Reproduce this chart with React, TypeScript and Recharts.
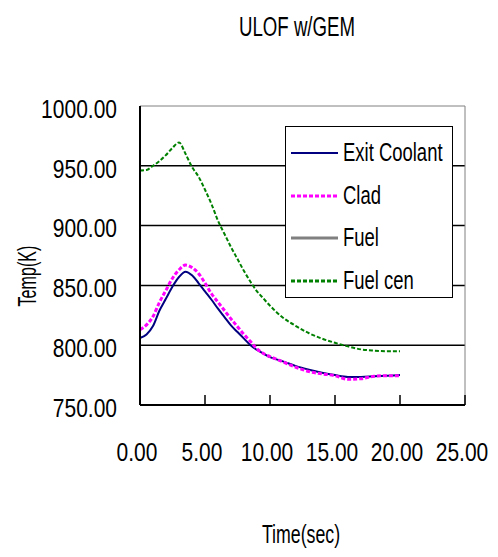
import React from "react";
import { LineChart, Line, XAxis, YAxis, ReferenceLine } from "recharts";

const time = [0, 0.5, 1, 1.5, 2, 2.5, 3, 3.5, 4, 4.5, 5, 5.5, 6, 6.5, 7, 7.5, 8, 8.5, 9, 9.5, 10, 11, 12, 13, 14, 15, 16, 17, 18, 19, 20];
const exitCoolant = [806, 809, 816, 829, 839, 849, 857, 861.5, 858.5, 852, 845, 838, 830.5, 823.5, 816.5, 811, 805.5, 800, 796, 793, 790, 786.5, 782.5, 779.5, 777, 775, 773.5, 773.5, 774, 774.5, 775];
const clad = [813, 817, 824, 836, 846, 856, 863, 867, 865, 860, 852, 843, 836, 829, 822, 815.5, 809, 803, 797, 793, 790.5, 786, 781.5, 778, 776, 774.5, 771.5, 772, 774, 774.5, 774.5];
const fuelCen = [946, 946.5, 950, 954, 959, 965, 969.5, 960, 949, 941, 930, 918, 904, 893, 882, 872, 862, 853, 845, 839, 833, 823, 816, 810, 805.5, 802, 799, 796.5, 795.5, 795, 795];

const xTicks = [0, 5, 10, 15, 20, 25];
const yTicks = [750, 800, 850, 900, 950, 1000];
const gridValues = [800, 850, 900, 950];

const data = time.map((t, i) => ({
  t,
  exit: exitCoolant[i],
  clad: clad[i],
  fuelCen: fuelCen[i],
}));

const FONT = "'Liberation Sans', Arial, sans-serif";

const legendItems = [
  { name: "Exit Coolant", color: "#000080", width: 2, dash: undefined },
  { name: "Clad", color: "#ff00ff", width: 3, dash: "4 2" },
  { name: "Fuel", color: "#808080", width: 3, dash: undefined },
  { name: "Fuel cen", color: "#008000", width: 3, dash: "4 2" },
];

// narrow text: the source uses a condensed face, so squeeze Liberation Sans
function Narrow({ text, size, sx, left, top }: any) {
  return (
    <div
      style={{
        position: "absolute",
        left,
        top,
        fontFamily: FONT,
        fontSize: size,
        lineHeight: 1,
        whiteSpace: "nowrap",
        transform: `scaleX(${sx}) translateX(-50%)`,
        transformOrigin: "0 0",
      }}
    >
      {text}
    </div>
  );
}

function YTick(props: any) {
  const { x, y, payload } = props;
  return (
    <text
      transform={`translate(${x},${y + 3}) scale(0.84,1)`}
      textAnchor="end"
      dy="0.35em"
      fontSize={25}
      fontFamily={FONT}
      fill="#000"
    >
      {payload.value.toFixed(2)}
    </text>
  );
}

function XTick(props: any) {
  const { x, y, payload } = props;
  return (
    <g>
      <line x1={x} x2={x} y1={y - 47} y2={y - 57} stroke="#000" strokeWidth={1.5} />
      <text
        transform={`translate(${x - 3},${y}) scale(0.84,1)`}
        textAnchor="middle"
        dy="0.35em"
        fontSize={25}
        fontFamily={FONT}
        fill="#000"
      >
        {payload.value.toFixed(2)}
      </text>
    </g>
  );
}

function LegendBox() {
  return (
    <div
      style={{
        position: "absolute",
        left: 285,
        top: 126,
        width: 168,
        height: 172,
        border: "1.5px solid #000",
        background: "#fff",
        boxSizing: "border-box",
      }}
    >
      {legendItems.map((item, i) => (
        <div key={item.name}>
          <svg width={48} height={10} style={{ position: "absolute", left: 5, top: 21 + i * 42.7 }}>
            <line x1={0} x2={47} y1={5} y2={5} stroke={item.color} strokeWidth={item.width} strokeDasharray={item.dash} />
          </svg>
          <div
            style={{
              position: "absolute",
              left: 57,
              top: 12 + i * 42.7,
              fontFamily: FONT,
              fontSize: 26,
              lineHeight: 1,
              whiteSpace: "nowrap",
              transform: "scaleX(0.71)",
              transformOrigin: "left center",
            }}
          >
            {item.name}
          </div>
        </div>
      ))}
    </div>
  );
}

export default function App() {
  return (
    <div style={{ position: "absolute", left: 0, top: 0, width: 498, height: 557, background: "#fff" }}>
      <LineChart width={498} height={557} data={data} margin={{ top: 106, right: 33, bottom: 112, left: 0 }}>
        <XAxis
          dataKey="t"
          type="number"
          domain={[0, 25]}
          ticks={xTicks}
          height={40}
          tickSize={0}
          tickMargin={47}
          tick={<XTick />}
          axisLine={{ stroke: "#000", strokeWidth: 2 }}
          tickLine={false}
        />
        <YAxis
          type="number"
          domain={[750, 1000]}
          ticks={yTicks}
          width={140}
          tickSize={0}
          tickMargin={23}
          tick={<YTick />}
          axisLine={{ stroke: "#000", strokeWidth: 2 }}
          tickLine={false}
        />
        {gridValues.map((v) => (
          <ReferenceLine key={v} y={v} stroke="#000" strokeWidth={1.5} />
        ))}
        <ReferenceLine y={1000} stroke="#808080" strokeWidth={1} />
        <ReferenceLine x={25} stroke="#808080" strokeWidth={1} />
        <Line type="monotone" dataKey="fuelCen" name="Fuel cen" stroke="#008000" strokeWidth={2} strokeDasharray="4 2" dot={false} isAnimationActive={false} />
        <Line type="monotone" dataKey="exit" name="Exit Coolant" stroke="#000080" strokeWidth={2} dot={false} isAnimationActive={false} />
        <Line type="monotone" dataKey="clad" name="Clad" stroke="#ff00ff" strokeWidth={3} strokeDasharray="4 2" dot={false} isAnimationActive={false} />
      </LineChart>
      <Narrow text="ULOF w/GEM" size={27} sx={0.69} left={297} top={14} />
      <Narrow text="Time(sec)" size={25} sx={0.71} left={301} top={522} />
      <div
        style={{
          position: "absolute",
          left: 27,
          top: 276,
          transform: "translate(-50%, -50%) rotate(-90deg) scaleX(0.62)",
          fontFamily: FONT,
          fontSize: 26,
          lineHeight: 1,
          whiteSpace: "nowrap",
        }}
      >
        Temp(K)
      </div>
      <LegendBox />
    </div>
  );
}
